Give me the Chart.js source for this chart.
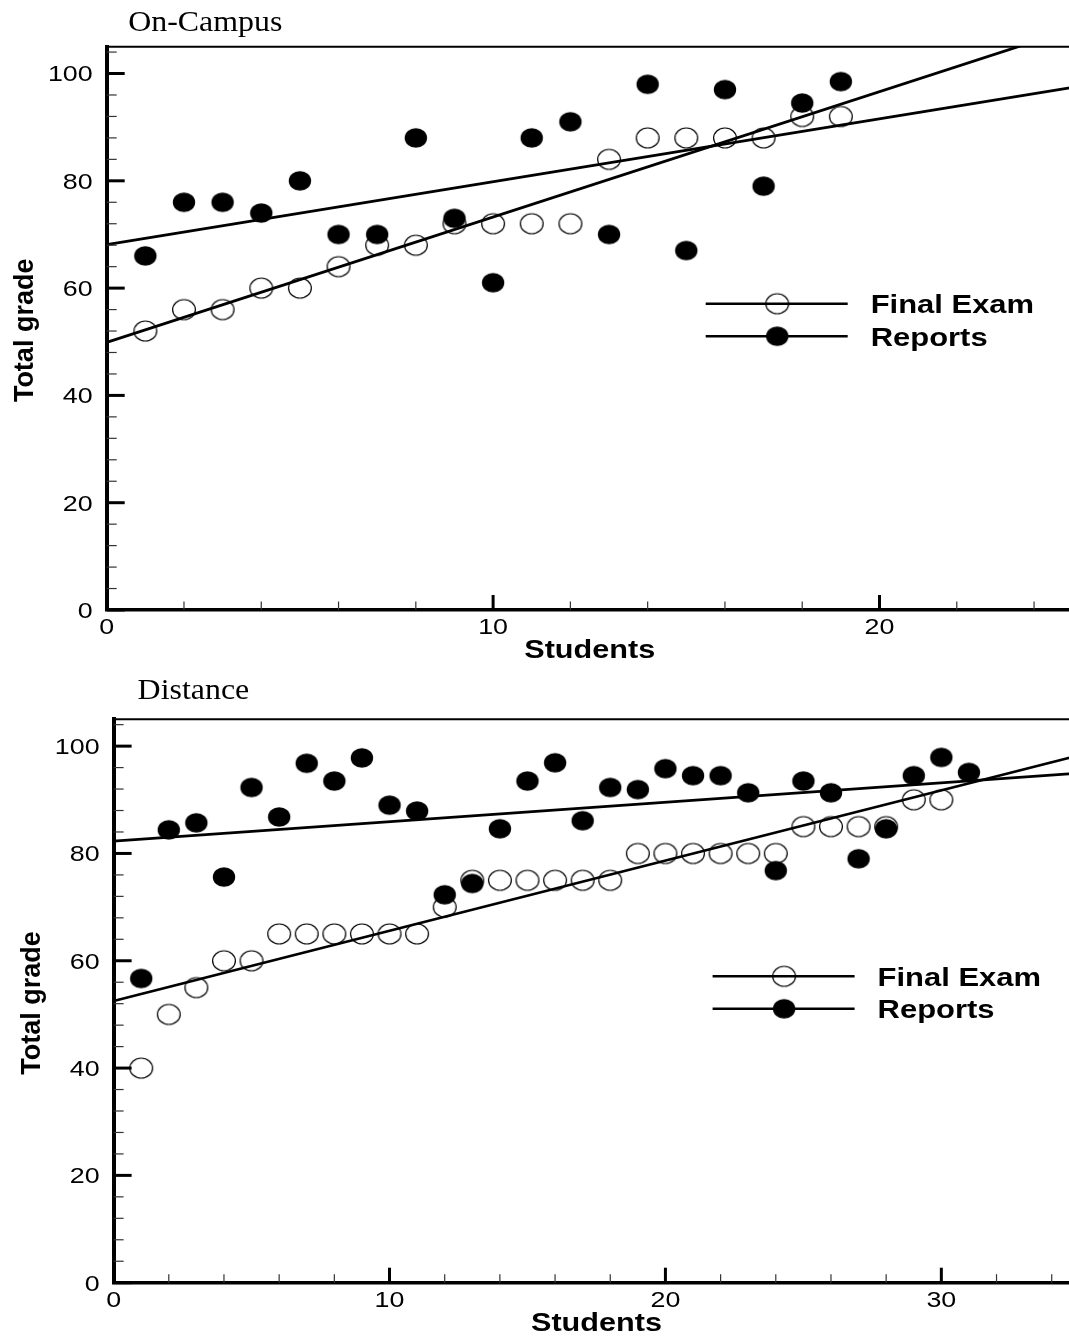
<!DOCTYPE html>
<html>
<head>
<meta charset="utf-8">
<title>Total grade by student</title>
<script src="https://cdn.jsdelivr.net/npm/chart.js@4.4.1/dist/chart.umd.min.js"></script>
<style>
html, body { margin: 0; padding: 0; background: #fff; overflow: hidden; }
#wrap { position: relative; width: 1069px; height: 1336px; overflow: hidden; }
#wrap canvas { position: absolute; left: 0; }
</style>
</head>
<body>
<div id="wrap">
  <canvas id="campus" width="1085" height="668" style="top:0"></canvas>
  <canvas id="distance" width="1085" height="668" style="top:668px"></canvas>
</div>
<script>
// On-Campus panel
const campusStudents = [1, 2, 3, 4, 5, 6, 7, 8, 9, 10, 11, 12, 13, 14, 15, 16, 17, 18, 19];
const campusExam = [52, 56, 56, 60, 60, 64, 68, 68, 72, 72, 72, 72, 84, 88, 88, 88, 88, 92, 92];
const campusReports = [66, 76, 76, 74, 80, 70, 70, 88, 73, 61, 88, 91, 70, 98, 67, 97, 79, 94.5, 98.5];
const campusFitX = [0, 25];
const campusExamFit = [49.9, 108.3];
const campusReportsFit = [68.1, 97.4];
const campusXTicks = [0, 10, 20];

// Distance panel
const distanceExamStudents = [1, 2, 3, 4, 5, 6, 7, 8, 9, 10, 11, 12, 13, 14, 15,
  16, 17, 18, 19, 20, 21, 22, 23, 24, 25, 26, 27, 28, 29, 30];
const distanceExam = [40, 50, 55, 60, 60, 65, 65, 65, 65, 65, 65, 70, 75, 75, 75,
  75, 75, 75, 80, 80, 80, 80, 80, 80, 85, 85, 85, 85, 90, 90];
const distanceReportStudents = [1, 2, 3, 4, 5, 6, 7, 8, 9, 10, 11, 12, 13, 14, 15, 16,
  17, 18, 19, 20, 21, 22, 23, 24, 25, 26, 27, 28, 29, 30, 31];
const distanceReports = [56.7, 84.4, 85.7, 75.6, 92.3, 86.8, 96.8, 93.5, 97.8, 89.0, 87.9, 72.3, 74.4, 84.6, 93.5, 96.9,
  86.1, 92.3, 91.9, 95.8, 94.5, 94.5, 91.3, 76.8, 93.5, 91.3, 79.0, 84.6, 94.5, 97.9, 95.1];
const distanceFitX = [0, 35];
const distanceExamFit = [52.5, 98.3];
const distanceReportsFit = [82.3, 94.95];
const distanceXTicks = [0, 10, 20, 30];

const yTicks = [0, 20, 40, 60, 80, 100];
const seriesNames = ['Final Exam', 'Reports'];

const SANS = '"Liberation Sans", Arial, sans-serif';
const SERIF = '"Liberation Serif", "Times New Roman", serif';

// ellipse markers, the original figure is a bit wider than tall
function marker(filled) {
  const c = document.createElement('canvas');
  c.width = 26;
  c.height = 24;
  const g = c.getContext('2d');
  g.beginPath();
  if (filled) {
    g.ellipse(13, 12, 11.2, 9.8, 0, 0, Math.PI * 2);
    g.fillStyle = '#000';
    g.fill();
  } else {
    g.ellipse(13, 12, 11.4, 10, 0, 0, Math.PI * 2);
    g.strokeStyle = '#000';
    g.lineWidth = 1.2;
    g.stroke();
  }
  return c;
}
const openDot = marker(false);
const fullDot = marker(true);

function seg(ctx, x1, y1, x2, y2, w, col) {
  ctx.beginPath();
  ctx.lineWidth = w;
  ctx.strokeStyle = col || '#000';
  ctx.moveTo(x1, y1);
  ctx.lineTo(x2, y2);
  ctx.stroke();
}

function text(ctx, s, x, y, font, sx, align, rot) {
  ctx.save();
  ctx.translate(x, y);
  if (rot) ctx.rotate(rot);
  ctx.scale(sx, 1);
  ctx.font = font;
  ctx.textAlign = align;
  ctx.textBaseline = 'alphabetic';
  ctx.fillStyle = '#000';
  ctx.fillText(s, 0, 0);
  ctx.restore();
}

// frame, inward ticks, labels, titles and the in-plot legend
const decor = {
  id: 'decor',
  afterDraw(chart, args, o) {
    const ctx = chart.ctx;
    const a = chart.chartArea;
    const xs = chart.scales.x, ys = chart.scales.y;
    ctx.save();
    seg(ctx, a.left, a.top, a.right + 2, a.top, 2);

    for (let v = 0; v <= ys.max; v += o.yMinor) {
      const py = ys.getPixelForValue(v);
      if (yTicks.includes(v)) seg(ctx, a.left, py, a.left + 18, py, 3);
      else seg(ctx, a.left, py, a.left + 10, py, 1.2, '#333');
    }
    for (let v = 0; v <= xs.max; v += o.xMinor) {
      const px = xs.getPixelForValue(v);
      if (o.xTicks.includes(v)) seg(ctx, px, a.bottom, px, a.bottom - 15, 3);
      else seg(ctx, px, a.bottom, px, a.bottom - 8.5, 1.2, '#333');
    }

    const tickFont = '22px ' + SANS;
    yTicks.forEach(v => {
      text(ctx, String(v), a.left - 14, ys.getPixelForValue(v) + 7.8, tickFont, 1.22, 'right');
    });
    o.xTicks.forEach(v => {
      text(ctx, String(v), xs.getPixelForValue(v), a.bottom + 23.8, tickFont, 1.22, 'center');
    });

    text(ctx, 'Students', (a.left + a.right) / 2, a.bottom + 48, 'bold 25.5px ' + SANS, 1.2, 'center');
    text(ctx, 'Total grade', a.left - 74, (a.top + a.bottom) / 2 + 2, 'bold 27px ' + SANS, 1.0, 'center', -Math.PI / 2);
    text(ctx, o.title, a.left + o.titleDx, a.top - o.titleDy, '29px ' + SERIF, 1.1, 'left');

    const dots = [openDot, fullDot];
    [257, 289.5].forEach((dy, i) => {
      const y = a.top + dy;
      seg(ctx, a.left + 599, y, a.left + 741, y, 2.6);
      ctx.drawImage(dots[i], a.left + 670.5 - 13, y - 12);
      text(ctx, seriesNames[i], a.left + 764, y + 9.3, 'bold 26px ' + SANS, 1.19, 'left');
    });
    ctx.restore();
  }
};

function pts(xs, ys) {
  return xs.map((x, i) => ({ x: x, y: ys[i] }));
}

function build(id, cfg) {
  const fitStyle = { showLine: true, pointRadius: 0, borderColor: '#000', borderWidth: 2.8, fill: false };
  return new Chart(document.getElementById(id), {
    type: 'scatter',
    data: {
      datasets: [
        Object.assign({ label: 'Final Exam fit', data: pts(cfg.fitX, cfg.examFit) }, fitStyle),
        Object.assign({ label: 'Reports fit', data: pts(cfg.fitX, cfg.reportsFit) }, fitStyle),
        { label: seriesNames[1], data: pts(cfg.reportStudents, cfg.reports), pointStyle: fullDot, pointRadius: 11 },
        { label: seriesNames[0], data: pts(cfg.examStudents, cfg.exam), pointStyle: openDot, pointRadius: 11 }
      ]
    },
    options: {
      responsive: false,
      animation: false,
      devicePixelRatio: 1,
      layout: { autoPadding: false, padding: cfg.padding },
      plugins: {
        legend: { display: false },
        tooltip: { enabled: false },
        decor: { title: cfg.title, titleDx: cfg.titleDx, titleDy: cfg.titleDy, xTicks: cfg.xTicks, xMinor: 2, yMinor: 4 }
      },
      scales: {
        x: {
          type: 'linear', min: 0, max: cfg.xMax,
          ticks: { display: false },
          grid: { display: false, drawTicks: false },
          border: { display: true, color: '#000', width: 3.5 }
        },
        y: {
          type: 'linear', min: 0, max: 105,
          ticks: { display: false },
          grid: { display: false, drawTicks: false },
          border: { display: true, color: '#000', width: 4 }
        }
      }
    },
    plugins: [decor]
  });
}

build('campus', {
  title: 'On-Campus', titleDx: 21.5, titleDy: 15.5,
  fitX: campusFitX, examFit: campusExamFit, reportsFit: campusReportsFit,
  examStudents: campusStudents, exam: campusExam,
  reportStudents: campusStudents, reports: campusReports,
  xTicks: campusXTicks, xMax: 25,
  padding: { left: 106.7, top: 46.7, right: 12.3, bottom: 58 }
});

build('distance', {
  title: 'Distance', titleDx: 24, titleDy: 20,
  fitX: distanceFitX, examFit: distanceExamFit, reportsFit: distanceReportsFit,
  examStudents: distanceExamStudents, exam: distanceExam,
  reportStudents: distanceReportStudents, reports: distanceReports,
  xTicks: distanceXTicks, xMax: 35,
  padding: { left: 113.6, top: 51.3, right: 5.7, bottom: 53.3 }
});
</script>
</body>
</html>
